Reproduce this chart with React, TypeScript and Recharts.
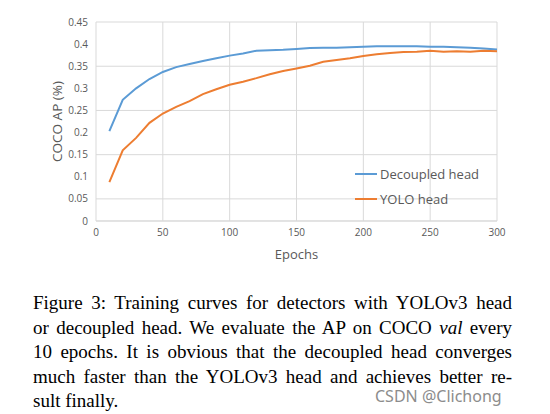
import React from "react";
import { LineChart, Line, XAxis, YAxis, CartesianGrid, Label } from "recharts";

const epochs = [10, 20, 30, 40, 50, 60, 70, 80, 90, 100, 110, 120, 130, 140, 150, 160, 170, 180, 190, 200, 210, 220, 230, 240, 250, 260, 270, 280, 290, 300];
const decoupled = [0.203, 0.274, 0.3, 0.321, 0.337, 0.348, 0.355, 0.362, 0.368, 0.374, 0.379, 0.385, 0.386, 0.387, 0.389, 0.391, 0.392, 0.392, 0.393, 0.394, 0.395, 0.395, 0.395, 0.395, 0.394, 0.394, 0.393, 0.392, 0.39, 0.388];
const yolo = [0.088, 0.16, 0.188, 0.222, 0.243, 0.258, 0.271, 0.287, 0.298, 0.308, 0.315, 0.323, 0.332, 0.339, 0.345, 0.351, 0.36, 0.364, 0.368, 0.373, 0.377, 0.38, 0.382, 0.383, 0.385, 0.383, 0.384, 0.383, 0.385, 0.384];
const xTicks = [0, 50, 100, 150, 200, 250, 300];
const yTicks = [0, 0.05, 0.1, 0.15, 0.2, 0.25, 0.3, 0.35, 0.4, 0.45];
const seriesNames = ["Decoupled head", "YOLO head"];
const seriesColors = ["#5B9BD5", "#ED7D31"];
const captionLines = [
  "Figure 3: Training curves for detectors with YOLOv3 head",
  "or decoupled head. We evaluate the AP on COCO |val| every",
  "10 epochs. It is obvious that the decoupled head converges",
  "much faster than the YOLOv3 head and achieves better re-",
  "sult finally.",
];

const data = epochs.map((e, i) => ({ epoch: e, decoupled: decoupled[i], yolo: yolo[i] }));

const FONT = "'Open Sans', sans-serif";
const GRAY = "#595959";

function YLabel({ viewBox }: any) {
  const cy = viewBox.y + viewBox.height / 2;
  return (
    <text x={62} y={cy} transform={`rotate(-90 62 ${cy})`} textAnchor="middle" fontSize={13.5} fill={GRAY} fontFamily={FONT}>
      COCO AP (%)
    </text>
  );
}

function renderLine(line: string) {
  const parts = line.split("|");
  return parts.map((p, i) => (i % 2 === 1 ? <i key={i}>{p}</i> : <React.Fragment key={i}>{p}</React.Fragment>));
}

export default function App() {
  return (
    <div style={{ position: "absolute", left: 0, top: 0, width: 550, height: 414, background: "#fff" }}>
      <LineChart width={550} height={270} data={data} margin={{ top: 22, right: 53, bottom: 9, left: 46 }}>
        <CartesianGrid stroke="#d9d9d9" />
        <XAxis
          dataKey="epoch"
          type="number"
          domain={[0, 300]}
          ticks={xTicks}
          tick={{ fontSize: 10, fill: GRAY, fontFamily: FONT }}
          tickLine={false}
          axisLine={{ stroke: "#d9d9d9" }}
          height={40}
        >
          <Label value="Epochs" position="insideBottom" offset={2} fontSize={13} fill={GRAY} fontFamily={FONT} />
        </XAxis>
        <YAxis
          type="number"
          domain={[0, 0.45]}
          ticks={yTicks}
          tick={{ fontSize: 10, fill: GRAY, fontFamily: FONT }}
          tickFormatter={(v: number) => String(+v.toFixed(2))}
          tickLine={false}
          axisLine={false}
          width={50}
        >
          <Label content={<YLabel />} />
        </YAxis>
        <Line dataKey="decoupled" name={seriesNames[0]} stroke={seriesColors[0]} strokeWidth={2} dot={false} isAnimationActive={false} />
        <Line dataKey="yolo" name={seriesNames[1]} stroke={seriesColors[1]} strokeWidth={2} dot={false} isAnimationActive={false} />
      </LineChart>
      <div style={{ position: "absolute", left: 355, top: 161, fontFamily: FONT, fontSize: 13, color: GRAY }}>
        {seriesNames.map((n, i) => (
          <div key={n} style={{ display: "flex", alignItems: "center", height: 25 }}>
            <span style={{ display: "inline-block", width: 22, height: 2, background: seriesColors[i], marginRight: 3 }} />
            {n}
          </div>
        ))}
      </div>
      <div
        style={{
          position: "absolute",
          left: 33,
          top: 291,
          width: 479,
          fontFamily: "'Liberation Serif', 'Times New Roman', serif",
          fontSize: 19,
          lineHeight: "24.5px",
          color: "#000",
        }}
      >
        {captionLines.map((l, i) => (
          <div
            key={i}
            style={{ textAlign: "justify", textAlignLast: i < captionLines.length - 1 ? "justify" : "left", whiteSpace: "nowrap" }}
          >
            {renderLine(l)}
          </div>
        ))}
      </div>
      <div
        style={{
          position: "absolute",
          left: 375,
          top: 387,
          fontFamily: "'Noto Sans', sans-serif",
          fontSize: 16,
          color: "#8c8c8c",
          lineHeight: "18px",
        }}
      >
        CSDN @Clichong
      </div>
    </div>
  );
}
